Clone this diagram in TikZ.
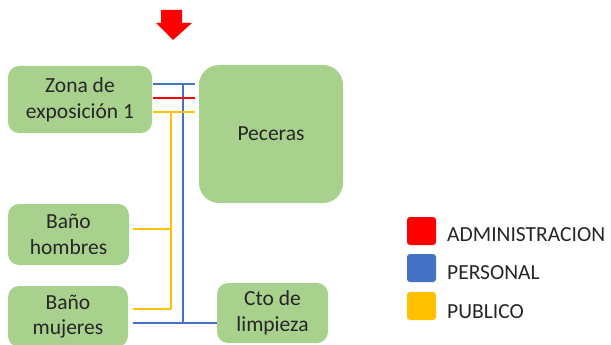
\documentclass[tikz,border=0pt]{standalone}
\usepackage{fontspec}
\setmainfont{Carlito}
\definecolor{boxgreen}{HTML}{A9D18E}
\definecolor{lred}{HTML}{FF0000}
\definecolor{lblue}{HTML}{4472C4}
\definecolor{lyellow}{HTML}{FFC000}
\begin{document}
\begin{tikzpicture}[x=1pt,y=-1pt,
  room/.style={fill=boxgreen,draw=none,rounded corners=11pt,align=center,inner sep=0pt,
    font=\fontsize{21.5}{25.6}\selectfont,text=black!85},
  bluewire/.style={draw=lblue,line width=1.5pt},
  redwire/.style={draw=lred,line width=1.5pt},
  yellowwire/.style={draw=lyellow,line width=1.5pt},
  legsq/.style={draw=none,rounded corners=3pt,minimum width=29pt,minimum height=28pt,inner sep=0pt},
  legtxt/.style={anchor=base west,inner sep=0pt,font=\fontsize{21.5}{26}\selectfont,text=black!85}]
\useasboundingbox (0,0) rectangle (611,345);
% rooms
\node[room,minimum width=144pt,minimum height=67pt] (zona) at (80,99.5) {Zona de\\exposición 1};
\node[room,minimum width=144pt,minimum height=138pt,rounded corners=20pt] (pec) at (271,134) {Peceras};
\node[room,minimum width=121pt,minimum height=61pt] (bh) at (68.5,234.5) {Baño\\hombres};
\node[room,minimum width=120pt,minimum height=61pt] (bm) at (68,316.5) {Baño\\mujeres};
\node[room,minimum width=111pt,minimum height=60pt] (cto) at (272.5,313) {Cto de\\limpieza};
% junction coordinates
\coordinate (bz) at (195,84);
\coordinate (rz) at (195,98);
\coordinate (yz) at (195,112);
\coordinate (bv) at (183,84);
\coordinate (yv) at (171,112);
\coordinate (bb) at (183,323);
\coordinate (yh) at (171,229);
\coordinate (ym) at (171,309);
% blue
\draw[bluewire] ([xshift=1pt]zona.east |- bz) -- (bz);
\draw[bluewire] (bv) -- (bb);
\draw[bluewire] ([xshift=5pt]bm.east |- bb) -- (cto.west |- bb);
% red
\draw[redwire] ([xshift=1pt]zona.east |- rz) -- (rz);
% yellow
\draw[yellowwire] ([xshift=1pt]zona.east |- yz) -- (yz);
\draw[yellowwire] (yv) -- (ym);
\draw[yellowwire] ([xshift=4pt]bh.east |- yh) -- (yh);
\draw[yellowwire] ([xshift=5pt]bm.east |- ym) -- (ym);
% entry arrow
\fill[lred] (161,10) -- (182,10) -- (182,23) -- (192,23) -- (173,40) -- (156,23) -- (161,23) -- cycle;
% legend
\node[legsq,fill=lred] (sqa) at (421.5,231) {};
\node[legsq,fill=lblue] (sqp) at (421.5,268) {};
\node[legsq,fill=lyellow] (squ) at (421.5,306) {};
\node[legtxt] (ta) at (447,241) {ADMINISTRACION};
\node[legtxt] (tp) at (447,279) {PERSONAL};
\node[legtxt] (tu) at (447,318) {PUBLICO};
\end{tikzpicture}
\end{document}
